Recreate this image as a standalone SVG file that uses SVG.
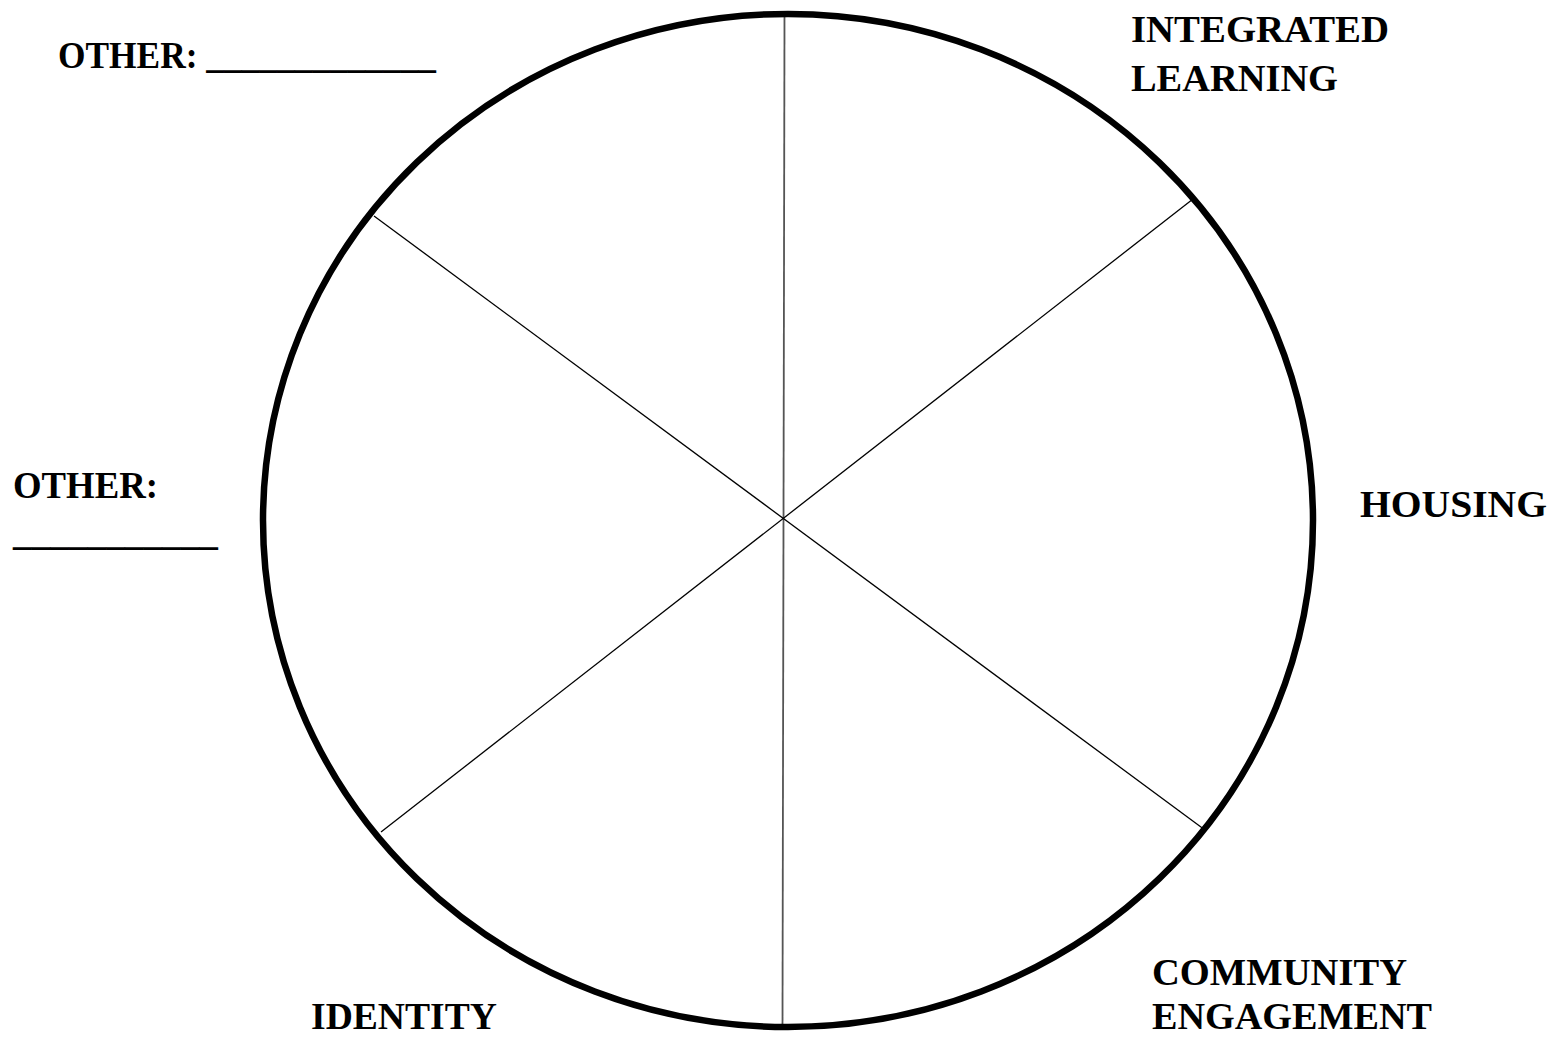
<svg xmlns="http://www.w3.org/2000/svg" width="1566" height="1038" viewBox="0 0 1566 1038">
<style>
.lbl{font-family:"Liberation Serif","DejaVu Serif",serif;font-weight:bold;font-size:38px;fill:#000}
.sp{stroke:#000;stroke-width:1.3;fill:none}
</style>
<rect width="1566" height="1038" fill="#fff"/>
<g id="connectors">
<line x1="784.5" y1="17" x2="782.5" y2="1025" style="stroke:#555;stroke-width:1.8"/>
<line class="sp" x1="374" y1="216" x2="1205" y2="830"/>
<line class="sp" x1="1193" y1="199" x2="381" y2="832"/>
</g>
<g id="wheel">
<ellipse cx="788" cy="520.5" rx="525" ry="506.5" fill="none" stroke="#000" stroke-width="6.5"/>
</g>
<g id="label-other-top">
<text class="lbl" x="58" y="68" textLength="378" lengthAdjust="spacingAndGlyphs">OTHER: _____________</text>
</g>
<g id="label-integrated">
<text class="lbl" x="1131" y="42" textLength="258" lengthAdjust="spacingAndGlyphs">INTEGRATED</text>
<text class="lbl" x="1131" y="91" textLength="207" lengthAdjust="spacingAndGlyphs">LEARNING</text>
</g>
<g id="label-other-left">
<text class="lbl" x="13" y="498" textLength="145" lengthAdjust="spacingAndGlyphs">OTHER:</text>
<text class="lbl" x="13" y="545" textLength="205" lengthAdjust="spacingAndGlyphs">___________</text>
</g>
<g id="label-housing">
<text class="lbl" x="1360" y="517" textLength="187" lengthAdjust="spacingAndGlyphs">HOUSING</text>
</g>
<g id="label-identity">
<text class="lbl" x="311" y="1029" textLength="186" lengthAdjust="spacingAndGlyphs">IDENTITY</text>
</g>
<g id="label-community">
<text class="lbl" x="1152" y="985" textLength="255" lengthAdjust="spacingAndGlyphs">COMMUNITY</text>
<text class="lbl" x="1152" y="1029" textLength="280" lengthAdjust="spacingAndGlyphs">ENGAGEMENT</text>
</g>
</svg>
